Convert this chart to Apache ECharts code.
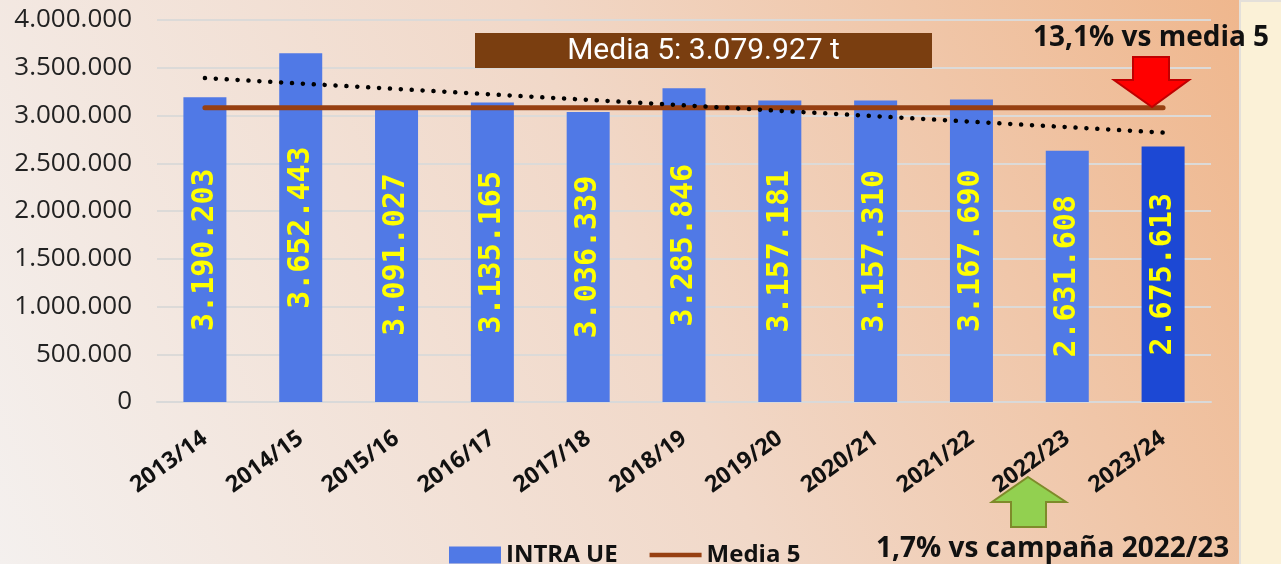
<!DOCTYPE html>
<html>
<head>
<meta charset="utf-8">
<title>INTRA UE</title>
<script src="https://cdn.jsdelivr.net/npm/echarts@6/dist/echarts.min.js"></script>
<style>
  html, body { margin: 0; padding: 0; }
  #chart { width: 1281px; height: 564px; }
</style>
</head>
<body>
<div id="chart"></div>
<script>
var campaigns = ["2013/14","2014/15","2015/16","2016/17","2017/18","2018/19","2019/20","2020/21","2021/22","2022/23","2023/24"];
var intraUE = [3190203, 3652443, 3091027, 3135165, 3036339, 3285846, 3157181, 3157310, 3167690, 2631608, 2675613];
var media5 = [3079927];
// dotted trend line, ends
var trendEnds = [3392000, 2821000];
var yTicks = [0, 500000, 1000000, 1500000, 2000000, 2500000, 3000000, 3500000, 4000000];

function fmt(v) {
	return String(v).replace(/\B(?=(\d{3})+(?!\d))/g, '.');
}

var barData = intraUE.map(function (v, i) {
	if (i === intraUE.length - 1) return { value: v, itemStyle: { color: '#1C48D4' } };
	return v;
});
var mediaData = campaigns.map(function () { return media5[0]; });
var trendData = campaigns.map(function (c, i) {
	if (i === 0) return trendEnds[0];
	if (i === campaigns.length - 1) return trendEnds[1];
	return null;
});

var myChart = echarts.init(document.getElementById('chart'));
myChart.setOption({
	animation: false,
	backgroundColor: new echarts.graphic.LinearGradient(0, 1, 1, 0, [
		{ offset: 0, color: '#F4F0EE' },
		{ offset: 0.5, color: '#F1D8C8' },
		{ offset: 1, color: '#EFB58A' }
	]),
	grid: { left: 157, right: 70, top: 20, bottom: 162 },
	legend: {
		data: [
			{ name: 'INTRA UE', icon: 'rect' },
			{ name: 'Media 5', icon: 'path://M0,0h60v5h-60z' }
		],
		left: 444,
		top: 538,
		itemWidth: 52,
		itemHeight: 17,
		itemGap: 32,
		textStyle: { fontFamily: 'Open Sans', fontWeight: 'bold', fontSize: 24, color: '#111' }
	},
	xAxis: {
		type: 'category',
		data: campaigns,
		axisTick: { show: false },
		axisLine: { lineStyle: { color: '#D9D9D9', width: 2 } },
		axisLabel: {
			rotate: 36,
			margin: 34,
			interval: 0,
			fontFamily: 'Open Sans',
			fontWeight: 'bold',
			fontSize: 23,
			color: '#111'
		}
	},
	yAxis: {
		type: 'value',
		min: yTicks[0],
		max: yTicks[yTicks.length - 1],
		interval: yTicks[1] - yTicks[0],
		axisLine: { show: false },
		axisTick: { show: false },
		splitLine: { lineStyle: { color: '#DCDAD8', width: 2 } },
		axisLabel: {
			margin: 25,
			fontFamily: 'Open Sans',
			fontSize: 26,
			color: '#222',
			formatter: fmt
		}
	},
	series: [
		{
			name: 'INTRA UE',
			type: 'bar',
			data: barData,
			barWidth: 43,
			itemStyle: { color: '#5079E6' },
			label: {
				show: true,
				position: 'inside',
				rotate: 90,
				fontFamily: 'DejaVu Sans Mono',
				fontWeight: 'bold',
				fontSize: 30,
				color: '#FFFF00',
				formatter: function (p) { return fmt(p.value); }
			},
			z: 2
		},
		{
			name: 'Media 5',
			type: 'line',
			data: mediaData,
			symbol: 'none',
			lineStyle: { color: '#974012', width: 5, cap: 'round' },
			itemStyle: { color: '#974012' },
			z: 4
		},
		{
			name: 'Tendencia',
			type: 'line',
			data: trendData,
			connectNulls: true,
			symbol: 'none',
			lineStyle: { color: '#000', width: 4.5, type: [0.1, 10.8], cap: 'round' },
			z: 5
		}
	],
	graphic: [
		{
			type: 'rect',
			left: 1239, top: 0, z: -10,
			shape: { width: 42, height: 564 },
			style: { fill: '#FBF1D7', stroke: '#E4E0DA', lineWidth: 2 }
		},
		{
			type: 'rect',
			shape: { x: 475, y: 33, width: 457, height: 35 },
			style: { fill: '#7A3E10' },
			z: 10
		},
		{
			type: 'text',
			x: 703.5, y: 51,
			style: {
				text: 'Media 5: ' + fmt(media5[0]) + ' t',
				fill: '#fff',
				font: '30px Roboto',
				align: 'center',
				verticalAlign: 'middle'
			},
			z: 11
		},
		{
			type: 'text',
			x: 1033, y: 38,
			style: {
				text: '13,1% vs media 5',
				fill: '#111',
				font: 'bold 28px "Open Sans"',
				verticalAlign: 'middle'
			},
			z: 11
		},
		{
			type: 'polygon',
			shape: { points: [[1133, 57], [1169, 57], [1169, 80], [1189, 80], [1152, 107], [1114, 80], [1133, 80]] },
			style: { fill: '#FF0000', stroke: '#C00000', lineWidth: 2 },
			z: 12
		},
		{
			type: 'polygon',
			shape: { points: [[1028, 477], [1066, 502], [1046, 502], [1046, 527], [1011, 527], [1011, 502], [992, 502]] },
			style: { fill: '#92D050', stroke: '#7E8B2A', lineWidth: 2 },
			z: 12
		},
		{
			type: 'text',
			x: 876, y: 549,
			style: {
				text: '1,7% vs campaña 2022/23',
				fill: '#111',
				font: 'bold 28px "Open Sans"',
				verticalAlign: 'middle'
			},
			z: 11
		}
	]
});
</script>
</body>
</html>
